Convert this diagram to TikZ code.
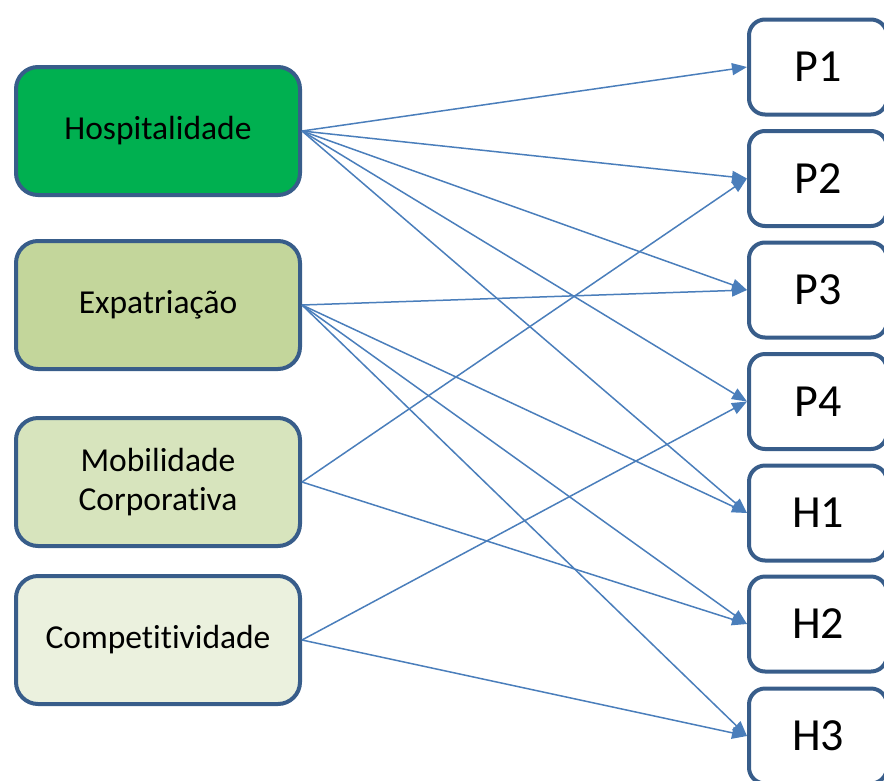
\documentclass[tikz,border=0pt]{standalone}
\usepackage{fontspec}
\setmainfont{Carlito}[Ligatures=NoCommon]
\usetikzlibrary{arrows.meta}
\definecolor{edgeblue}{HTML}{385D8A}
\definecolor{linkblue}{HTML}{4A7EBB}
\definecolor{greenA}{HTML}{00B050}
\definecolor{greenB}{HTML}{C3D69B}
\definecolor{greenC}{HTML}{D7E4BD}
\definecolor{greenD}{HTML}{EBF1DE}
\begin{document}
\begin{tikzpicture}[x=1pt,y=-1pt,
  factor/.style={draw=edgeblue, line width=4pt, rounded corners=22pt,
    minimum width=284pt, minimum height=128pt, align=center, inner sep=0pt,
    font=\fontsize{33.5}{39}\selectfont},
  outcome/.style={draw=edgeblue, line width=4pt, rounded corners=16pt, fill=white,
    minimum width=138pt, minimum height=95pt, inner sep=0pt,
    font=\fontsize{46}{50}\selectfont},
  link/.style={draw=linkblue, line width=1.5pt, -{Triangle[length=15pt,width=12pt]}}]
\useasboundingbox (0,0) rectangle (884,780);
\clip (0,0) rectangle (884,780);

% factors (left column)
\node[factor, fill=greenA] (hosp) at (158,131) {Hospitalidade};
\node[factor, fill=greenB] (expa) at (158,305) {Expatriação};
\node[factor, fill=greenC] (mobi) at (158,482) {Mobilidade\\Corporativa};
\node[factor, fill=greenD] (comp) at (158,640) {Competitividade};

% outcomes (right column)
\node[outcome] (p1) at (818,67) {P1};
\node[outcome] (p2) at (818,178.5) {P2};
\node[outcome] (p3) at (818,290) {P3};
\node[outcome] (p4) at (818,401.5) {P4};
\node[outcome] (h1) at (818,513) {H1};
\node[outcome] (h2) at (818,624) {H2};
\node[outcome] (h3) at (818,736) {H3};

% links
\foreach \t in {p1,p2,p3,p4,h1} \draw[link] (hosp.east) -- (\t.west);
\foreach \t in {p3,h1,h2,h3} \draw[link] (expa.east) -- (\t.west);
\foreach \t in {p2,h2} \draw[link] (mobi.east) -- (\t.west);
\foreach \t in {p4,h3} \draw[link] (comp.east) -- (\t.west);
\end{tikzpicture}
\end{document}
